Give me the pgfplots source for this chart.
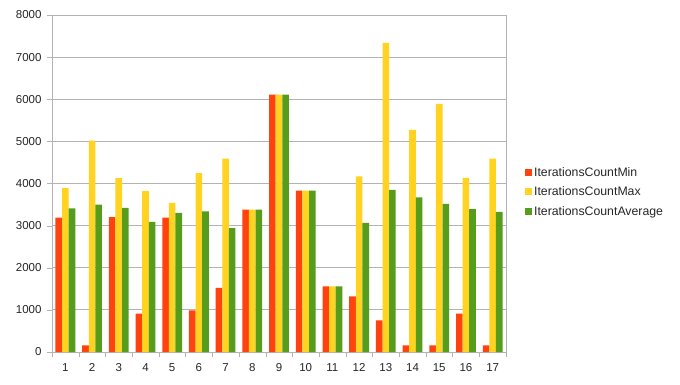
\documentclass[border=0pt]{standalone}
\usepackage{fontspec}
\setmainfont{Liberation Sans}
\usepackage{pgfplots}
\pgfplotsset{compat=1.18}
\definecolor{cmin}{HTML}{FF420E}
\definecolor{cmax}{HTML}{FFD320}
\definecolor{cavg}{HTML}{579D1C}
\definecolor{gridgray}{HTML}{B3B3B3}
\begin{document}
\begin{tikzpicture}
\begin{axis}[
  scale only axis, width=454pt, height=337pt,
  ybar=0pt, bar width=6.6pt,
  xmin=0.5, xmax=17.5, ymin=0, ymax=8000,
  xtick={1,...,17},
  minor xtick={0.5,1.5,...,17.5},
  ytick={0,1000,...,8000},
  xtick pos=bottom, ytick pos=left,
  major x tick style={draw=none},
  minor x tick style={draw=gridgray},
  tick align=outside,
  major tick length=5pt, minor tick length=5pt,
  y tick style={draw=gridgray},
  ymajorgrids, grid style={gridgray, line width=0.8pt},
  axis line style={gridgray, line width=0.8pt},
  ticklabel style={font=\fontsize{11.5}{13}\selectfont, text=black!85},
  /pgf/number format/assume math mode=true,
  /pgf/number format/1000 sep={},
  xticklabel style={yshift=-3pt},
  yticklabel style={xshift=-2pt},
  legend style={at={(rel axis cs:1.035,0.475)}, anchor=west, draw=none, fill=none,
    font=\fontsize{12.3}{14}\selectfont, row sep=5pt, text=black!85},
  legend cell align=left,
  legend image code/.code={\fill[#1] (0pt,-3.5pt) rectangle (7pt,3.5pt);},
]
\addplot[fill=cmin, draw=none] coordinates {(1,3190) (2,160) (3,3200) (4,910) (5,3190) (6,990) (7,1520) (8,3380) (9,6110) (10,3830) (11,1560) (12,1320) (13,750) (14,160) (15,160) (16,910) (17,160)};
\addplot[fill=cmax, draw=none] coordinates {(1,3890) (2,5020) (3,4130) (4,3820) (5,3540) (6,4245) (7,4590) (8,3380) (9,6110) (10,3830) (11,1560) (12,4170) (13,7340) (14,5275) (15,5890) (16,4135) (17,4590)};
\addplot[fill=cavg, draw=none] coordinates {(1,3410) (2,3500) (3,3420) (4,3090) (5,3300) (6,3340) (7,2940) (8,3380) (9,6110) (10,3830) (11,1560) (12,3065) (13,3850) (14,3670) (15,3517) (16,3390) (17,3327)};
\legend{IterationsCountMin,IterationsCountMax,IterationsCountAverage}
\end{axis}
\useasboundingbox (-52pt,-32pt) rectangle (628pt,352pt);
\end{tikzpicture}
\end{document}
